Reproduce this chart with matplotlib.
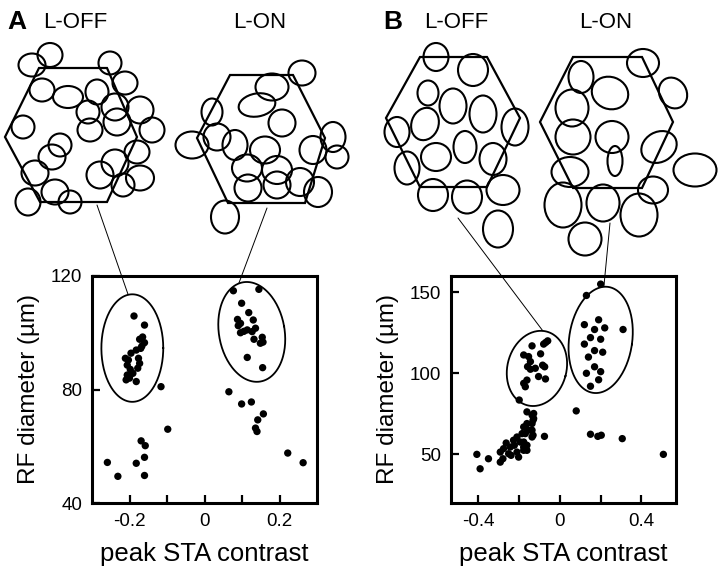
import numpy as np
import matplotlib
matplotlib.use("Agg")
import matplotlib.pyplot as plt
from matplotlib.patches import Ellipse, Polygon, ConnectionPatch

plt.rcParams['font.family'] = ['Liberation Sans', 'DejaVu Sans']

# ---- scatter data (peak STA contrast, RF diameter in um) ----
a_off_x = [-0.188, -0.160, -0.173, -0.160, -0.167, -0.182, -0.196, -0.211, -0.203, -0.176,
           -0.173, -0.206, -0.198, -0.206, -0.191, -0.209, -0.182, -0.165, -0.170, -0.200,
           -0.178, -0.116, -0.098, -0.169, -0.158, -0.160, -0.259, -0.182, -0.231, -0.160]
a_off_y = [105.9, 102.7, 97.7, 96.5, 95.3, 93.9, 92.8, 91.0, 90.4, 91.0,
           89.2, 88.6, 87.1, 85.1, 85.7, 83.4, 82.8, 98.5, 94.5, 84.0,
           87.5, 81.0, 66.0, 61.9, 60.2, 56.1, 54.3, 54.0, 49.4, 49.7]
a_on_x = [0.077, 0.145, 0.099, 0.118, 0.088, 0.096, 0.130, 0.136, 0.114, 0.096,
          0.127, 0.132, 0.154, 0.149, 0.156, 0.114, 0.155, 0.090, 0.105,
          0.065, 0.099, 0.125, 0.157, 0.142, 0.136, 0.140, 0.222, 0.263]
a_on_y = [114.8, 115.3, 110.4, 107.1, 104.7, 103.3, 104.5, 101.6, 101.0, 100.0,
          100.4, 97.7, 98.4, 96.3, 96.7, 91.3, 87.7, 102.5, 100.5,
          79.2, 74.9, 75.6, 71.4, 69.3, 66.4, 65.2, 57.6, 54.2]

b_off_x = [-0.137, -0.178, -0.154, -0.145, -0.159, -0.145, -0.162, -0.178, -0.170, -0.200,
           -0.121, -0.080, -0.070, -0.095, -0.085, -0.060, -0.105, -0.075, -0.071,
           -0.162, -0.137, -0.132, -0.162, -0.178, -0.154, -0.132, -0.186, -0.211, -0.228,
           -0.195, -0.178, -0.162, -0.224, -0.244, -0.264, -0.211, -0.203, -0.252, -0.277,
           -0.293, -0.280, -0.293, -0.240, -0.351, -0.408, -0.392, -0.129, -0.129, -0.137,
           -0.170, -0.137, -0.170, -0.137, -0.076, -0.178, -0.162, -0.178]
b_off_y = [116.9, 111.3, 110.3, 107.2, 104.1, 102.5, 95.8, 93.8, 91.7, 83.5,
           103.1, 118.0, 119.0, 112.0, 105.0, 120.0, 98.0, 104.0, 96.5,
           76.2, 74.2, 71.1, 69.0, 66.9, 64.9, 61.8, 62.8, 60.7, 58.7,
           57.6, 54.5, 52.5, 55.6, 54.5, 57.0, 51.4, 48.3, 50.4, 53.5,
           51.4, 47.3, 45.2, 49.4, 47.3, 50.0, 41.1, 75.2, 72.1, 69.0,
           66.9, 64.9, 62.8, 60.7, 61.1, 57.6, 55.6, 52.5]
b_on_x = [0.200, 0.130, 0.190, 0.120, 0.170, 0.220, 0.310, 0.150, 0.200, 0.120,
          0.170, 0.210, 0.140, 0.170, 0.200, 0.130, 0.190, 0.150,
          0.080, 0.150, 0.186, 0.203, 0.306, 0.508]
b_on_y = [155.0, 148.0, 133.0, 130.0, 127.0, 128.0, 127.0, 122.0, 121.0, 118.0,
          114.0, 113.0, 110.0, 104.0, 101.0, 100.0, 96.0, 92.0,
          76.8, 62.4, 61.1, 61.8, 59.7, 50.0]

# cluster outlines: centre x, centre y, width, height, tilt (deg)
a_off_ring = (-0.1925, 94.6, 0.165, 37.9, 0)
a_on_ring = (0.126, 100.3, 0.175, 35.5, 10)
b_off_ring = (-0.113, 103.0, 0.29, 47.0, -15)
b_on_ring = (0.200, 120.6, 0.31, 66.0, -8)

# ---- receptive-field mosaics (figure pixels): x, y, w, h, angle ----
hex_a_off = [(39, 68), (107, 68), (137, 137), (107, 202), (40, 202), (5, 137)]
hex_a_on = [(230, 75), (293, 75), (325, 138), (305, 203), (228, 203), (197, 138)]
hex_b_off = [(420, 57), (487, 57), (520, 118), (487, 187), (420, 187), (386, 118)]
hex_b_on = [(573, 57), (642, 57), (673, 122), (642, 188), (573, 188), (540, 122)]

rf_a_off = [(50, 55, 25, 24, 0), (32, 65, 27, 23, 0), (110, 63, 23, 23, 0), (42, 90, 25, 23, 0),
            (68, 97, 30, 22, 0), (97, 92, 23, 25, 0), (125, 83, 25, 23, 0), (88, 112, 23, 23, 0),
            (115, 107, 27, 27, 0), (140, 110, 27, 27, 0), (117, 122, 27, 27, 0), (90, 130, 25, 23, 0),
            (152, 130, 25, 25, 0), (23, 127, 23, 23, 0), (60, 145, 23, 23, 0), (52, 157, 27, 25, 0),
            (137, 152, 25, 23, 0), (115, 163, 27, 27, 0), (100, 175, 27, 27, 0), (35, 173, 27, 25, 0),
            (55, 192, 27, 25, 0), (28, 202, 25, 27, 0), (70, 202, 23, 23, 0), (140, 178, 28, 25, 0),
            (123, 185, 23, 23, 0)]
rf_a_on = [(302, 73, 27, 25, 0), (272, 87, 33, 27, 0), (257, 105, 37, 23, -10), (212, 112, 21, 27, 0),
           (282, 123, 27, 27, 0), (192, 145, 33, 27, 0), (217, 137, 27, 27, 0), (235, 145, 25, 30, 0),
           (265, 150, 30, 27, 0), (333, 137, 25, 30, 0), (313, 150, 27, 28, 0), (337, 157, 23, 23, 0),
           (247, 168, 30, 27, 0), (277, 170, 30, 28, 0), (248, 188, 27, 27, 0), (277, 185, 27, 27, 0),
           (300, 182, 28, 28, 0), (318, 192, 28, 30, 0), (225, 217, 28, 33, 0)]
rf_b_off = [(436, 57, 25, 28, 0), (473, 70, 30, 32, 0), (428, 93, 21, 25, 0), (453, 106, 27, 35, 0),
            (483, 114, 27, 37, 0), (425, 124, 27, 33, 20), (397, 132, 25, 30, 0), (515, 127, 27, 37, 0),
            (465, 147, 23, 32, 0), (436, 157, 30, 28, 0), (493, 159, 27, 32, 0), (407, 168, 25, 33, 0),
            (433, 195, 30, 32, 0), (467, 197, 30, 33, 0), (503, 190, 33, 30, 0), (498, 229, 30, 37, 0)]
rf_b_on = [(581, 77, 25, 32, 0), (610, 93, 37, 32, 20), (643, 63, 32, 28, 0), (673, 93, 27, 32, -30),
           (572, 108, 33, 37, 0), (573, 137, 35, 35, 0), (612, 137, 33, 32, 0), (659, 147, 37, 30, -30),
           (615, 161, 15, 30, 0), (570, 172, 37, 30, 0), (695, 170, 43, 33, 0), (653, 190, 30, 27, 0),
           (563, 205, 37, 45, 0), (603, 203, 33, 37, 0), (639, 215, 37, 43, 0), (585, 239, 33, 33, 0)]

# start points of the thin lines under each mosaic (figure pixels)
link_a_off = (97, 205)
link_a_on = (267, 208)
link_b_off = (458, 218)
link_b_on = (610, 223)

fig = plt.figure(figsize=(7.2, 5.7), dpi=100)
ax_a = fig.add_axes([92 / 720, 67 / 570, 225 / 720, 227 / 570])
ax_b = fig.add_axes([451 / 720, 67 / 570, 225 / 720, 227 / 570])
top = fig.add_axes([0, 0, 1, 1], zorder=5)
top.set_xlim(0, 720)
top.set_ylim(570, 0)
top.axis('off')
top.patch.set_alpha(0)


def ring(ax, cx, cy, w, h, tilt):
    c = ax.transData.transform((cx, cy))
    a = ax.transData.transform((cx + w / 2, cy))[0] - c[0]
    b = ax.transData.transform((cx, cy + h / 2))[1] - c[1]
    t = np.linspace(0, 2 * np.pi, 200)
    th = np.deg2rad(tilt)
    u, v = a * np.cos(t), b * np.sin(t)
    pts = np.column_stack([c[0] + u * np.cos(th) - v * np.sin(th),
                           c[1] + u * np.sin(th) + v * np.cos(th)])
    pts = ax.transData.inverted().transform(pts)
    ax.plot(pts[:, 0], pts[:, 1], color='black', lw=1.3)
    # point slightly left of the top, where the link line lands
    k = np.argmin(np.abs(t - np.deg2rad(97)))
    return pts[k]


def style(ax, xlim, ylim, xt, xl, yt):
    ax.set_xlim(*xlim)
    ax.set_ylim(*ylim)
    ax.set_xticks(xt)
    ax.set_xticklabels(xl)
    ax.set_yticks(yt)
    ax.set_yticklabels([str(v) for v in yt])
    for s in ax.spines.values():
        s.set_linewidth(2.2)
    ax.tick_params(direction='in', length=6, width=1.6, labelsize=13.5, pad=7)
    ax.set_xlabel('peak STA contrast', fontsize=18.5, labelpad=9)
    ax.set_ylabel('RF diameter (\u00b5m)', fontsize=17.5, labelpad=8)


style(ax_a, (-0.3, 0.3), (40, 120), [-0.2, -0.1, 0, 0.1, 0.2],
      ['-0.2', '', '0', '', '0.2'], [40, 80, 120])
style(ax_b, (-0.535, 0.57), (20, 160), [-0.4, -0.2, 0, 0.2, 0.4],
      ['-0.4', '', '0', '', '0.4'], [50, 100, 150])

for ax, xs, ys in [(ax_a, a_off_x + a_on_x, a_off_y + a_on_y),
                   (ax_b, b_off_x + b_on_x, b_off_y + b_on_y)]:
    ax.scatter(xs, ys, s=28, color='black', edgecolors='none', zorder=3)

ends = [ring(ax_a, *a_off_ring), ring(ax_a, *a_on_ring),
        ring(ax_b, *b_off_ring), ring(ax_b, *b_on_ring)]

for hexv, rfs in [(hex_a_off, rf_a_off), (hex_a_on, rf_a_on),
                  (hex_b_off, rf_b_off), (hex_b_on, rf_b_on)]:
    top.add_patch(Polygon(hexv, closed=True, fill=False, lw=1.6, ec='black'))
    for x, y, w, h, ang in rfs:
        top.add_patch(Ellipse((x, y), w, h, angle=ang, fill=False, lw=1.5, ec='black'))

for start, end, ax in zip([link_a_off, link_a_on, link_b_off, link_b_on], ends,
                          [ax_a, ax_a, ax_b, ax_b]):
    con = ConnectionPatch(xyA=start, coordsA=top.transData, xyB=end, coordsB=ax.transData,
                          color='black', lw=0.7)
    fig.add_artist(con)

fig.text(7 / 720, 1 - 22 / 570, 'A', fontsize=19, fontweight='bold', va='center')
fig.text(383 / 720, 1 - 22 / 570, 'B', fontsize=19, fontweight='bold', va='center')
for x, s in [(75, 'L-OFF'), (260, 'L-ON'), (456, 'L-OFF'), (606, 'L-ON')]:
    fig.text(x / 720, 1 - 23 / 570, s, fontsize=16, ha='center', va='center')

fig.savefig('out.png', dpi=100)
